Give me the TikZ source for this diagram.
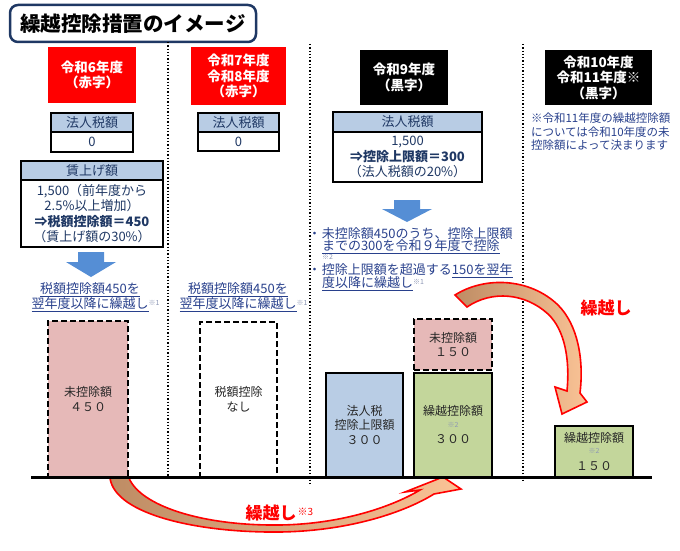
\documentclass[tikz,border=0pt]{standalone}
\usepackage{fontspec}
\setmainfont{Noto Sans CJK JP}
\usepackage{xcolor}
\usepackage{tikz}
\usetikzlibrary{arrows.meta,positioning}
\definecolor{navy}{RGB}{31,56,100}
\definecolor{txtblue}{RGB}{40,64,140}
\definecolor{hdrblue}{RGB}{184,204,228}
\definecolor{arrblue}{RGB}{85,142,213}
\definecolor{pinkfill}{RGB}{230,185,184}
\definecolor{bluefill}{RGB}{185,205,229}
\definecolor{greenfill}{RGB}{195,214,155}
\definecolor{brownarr}{RGB}{190,140,100}
\definecolor{peacharr}{RGB}{250,195,150}
\definecolor{notegray}{RGB}{140,150,180}
\definecolor{bartext}{RGB}{38,38,38}
\newcommand\smallref[1]{{\fontsize{7}{8}\selectfont\color{notegray}#1}}

\begin{document}
\begin{tikzpicture}[x=1pt,y=-1pt,
  every node/.style={inner sep=0pt,outer sep=0pt},
  titlebox/.style={draw=navy,line width=2.5pt,rounded corners=8pt,font=\fontsize{20.5}{21}\selectfont\bfseries},
  hdrred/.style={fill=red,text=white,font=\fontsize{13.5}{15.5}\selectfont\bfseries,align=center},
  hdrblack/.style={hdrred,fill=black},
  tblhead/.style={draw=black,line width=1.3pt,fill=hdrblue,text=navy,font=\fontsize{13}{15}\selectfont},
  tblbody/.style={draw=black,line width=1.3pt,fill=white,text=navy,font=\fontsize{13}{15.5}\selectfont,align=center},
  linktext/.style={text=txtblue,font=\fontsize{13}{13.5}\selectfont,align=center},
  notetext/.style={text=txtblue,font=\fontsize{11.5}{13.5}\selectfont,align=left},
  barbox/.style={draw=black,line width=2.4pt,text=bartext,font=\fontsize{12}{14.5}\selectfont,align=center},
  dashbar/.style={barbox,dash pattern=on 6pt off 3pt},
  downarrow/.style={fill=arrblue},
  carry/.style={draw=red,line width=1.6pt,left color=brownarr,right color=peacharr},
  carrylabel/.style={text=red,font=\fontsize{17}{17}\selectfont\bfseries},
  sep/.style={dotted,line width=1.3pt}
]
\useasboundingbox (0,0) rectangle (680,551);

% title
\node[titlebox,minimum width=246,minimum height=37] (title) at (133,23.5) {繰越控除措置のイメージ};

% column separators
\draw[sep] (168,42)--(168,480);
\draw[sep] (310,44)--(310,483);
\draw[sep] (523,44)--(523,482);

% year headers
\node[hdrred,minimum width=88,minimum height=56] (yr6) at (92,75) {令和6年度\\（赤字）};
\node[hdrred,minimum width=95,minimum height=58] (yr78) at (238.5,76) {令和7年度\\令和8年度\\（赤字）};
\node[hdrblack,minimum width=88,minimum height=55] (yr9) at (404,77.5) {令和9年度\\（黒字）};
\node[hdrblack,minimum width=107,minimum height=55] (yr1011) at (598.5,77.5) {令和10年度\\令和11年度※\\（黒字）};

% tax tables
\node[tblhead,minimum width=82,minimum height=19] (tax6h) at (92,122.5) {法人税額};
\node[tblbody,minimum width=82,minimum height=20,anchor=north] (tax6b) at (tax6h.south) {0};
\node[tblhead,minimum width=81,minimum height=19] (tax78h) at (238.5,122.5) {法人税額};
\node[tblbody,minimum width=81,minimum height=19,anchor=north] (tax78b) at (tax78h.south) {0};
\node[tblhead,minimum width=149,minimum height=20] (tax9h) at (407.5,122) {法人税額};
\node[tblbody,minimum width=149,minimum height=50,anchor=north] (tax9b) at (tax9h.south)
  {1,500\\\textbf{⇒控除上限額＝300}\\（法人税額の20\%）};
\node[tblhead,minimum width=142,minimum height=19] (wageh) at (92,170.5) {賃上げ額};
\node[tblbody,minimum width=142,minimum height=67,anchor=north] (wageb) at (wageh.south)
  {1,500（前年度から\\2.5\%以上増加）\\\textbf{⇒税額控除額＝450}\\（賃上げ額の30\%）};

% blue arrows
\fill[downarrow] (78,252)--(104,252)--(104,262)--(116,262)--(91,277)--(66,262)--(78,262)--cycle;
\fill[downarrow] (394,200)--(420,200)--(420,209)--(432,209)--(407,222)--(382,209)--(394,209)--cycle;

% carry-over texts
\node[linktext] (carry6) at (90,297) {\underline{税額控除額450を}\\\underline{翌年度以降に繰越し}\rlap{\smallref{\raisebox{3pt}{※1}}}};
\node[linktext] (carry78) at (238,297) {\underline{税額控除額450を}\\\underline{翌年度以降に繰越し}\rlap{\smallref{\raisebox{3pt}{※1}}}};
\node[linktext,anchor=west] (use9a) at (312,234) {\makebox[10pt][l]{\hspace{-4pt}・}未控除額450のうち、控除上限額};
\node[linktext,anchor=west] (use9b) at (322,247) {\underline{までの300を令和９年度で控除}};
\node[anchor=west] (use9c) at (322,256.5) {\smallref{※2}};
\node[linktext,anchor=west] (use9d) at (312,271) {\makebox[10pt][l]{\hspace{-4pt}・}控除上限額を超過する\underline{150を翌年}};
\node[linktext,anchor=west] (use9e) at (322,284) {\underline{度以降に繰越し}\smallref{\raisebox{3pt}{※1}}};
\node[notetext,anchor=west] (note1011) at (531,132) {※令和11年度の繰越控除額\\については令和10年度の未\\控除額によって決まります};

% curved carry arrows
\draw[carry] (455,295) .. controls (485,276) and (530,278) .. (558,305)
  .. controls (578,325) and (584,360) .. (580,393) -- (587,402) -- (562,414) -- (555,387) -- (567,391)
  .. controls (570,360) and (565,330) .. (548,314) .. controls (525,293) and (492,290) .. (467,307) -- cycle;
\draw[carry] (110,478) .. controls (115,515) and (200,533) .. (280,532)
  .. controls (350,531) and (405,512) .. (434,494) -- (461,489) -- (443,477) -- (405,492) -- (420,490)
  .. controls (395,505) and (345,524) .. (280,525) .. controls (200,526) and (140,505) .. (129,478) -- cycle;
\node[carrylabel] (carrytop) at (606,308) {繰越し};
\node[carrylabel] (carrybot) at (271,513) {繰越し\rlap{\hspace{1pt}\fontsize{10}{10}\selectfont\mdseries\raisebox{4pt}{※3}}};

% bars
\node[dashbar,fill=pinkfill,minimum width=80,minimum height=156] (rest6) at (88,399) {未控除額\\４５０};
\node[dashbar,fill=white,minimum width=77,minimum height=155] (none78) at (238.5,399.5) {税額控除\\なし};
\node[barbox,fill=bluefill,minimum width=77,minimum height=104] (cap9) at (364.5,425) {法人税\\控除上限額\\３００};
\node[barbox,fill=greenfill,minimum width=78,minimum height=104] (used9) at (453,425) {繰越控除額\\[-3pt]\smallref{※2}\\[2pt]３００};
\node[dashbar,fill=pinkfill,minimum width=78,minimum height=51] (rest9) at (453,344.5) {未控除額\\１５０};
\node[barbox,fill=greenfill,minimum width=78,minimum height=51] (used10) at (594,451.5) {繰越控除額\\[-3pt]\smallref{※2}\\[2pt]１５０};

% ground line
\draw[line width=3pt] (31,477)--(652,477);
\end{tikzpicture}
\end{document}
